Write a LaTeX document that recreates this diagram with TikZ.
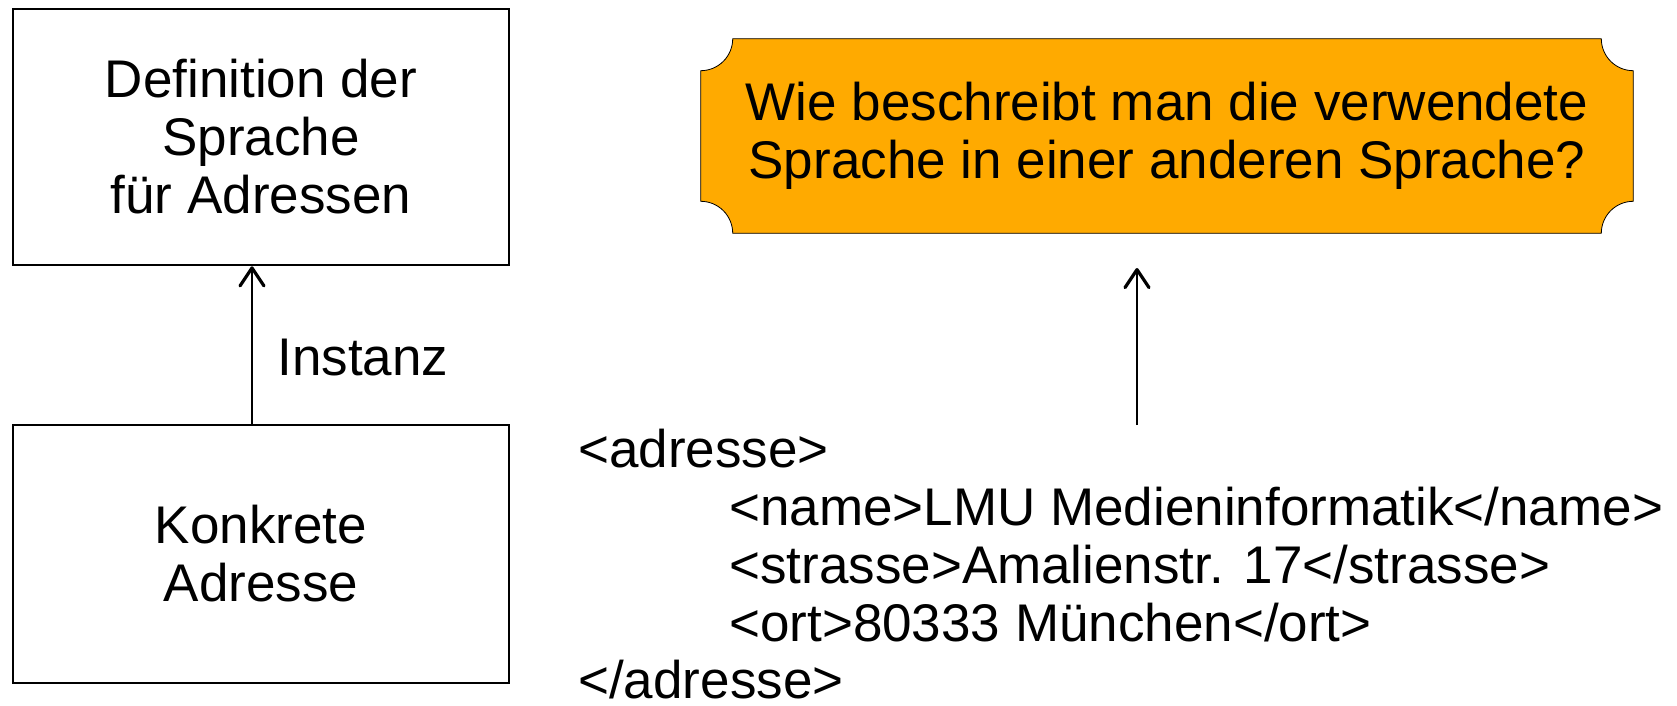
\documentclass[tikz,border=0pt]{standalone}
\usepackage{fontspec}
\setmainfont{Liberation Sans}
\usepackage{tikz}
\usetikzlibrary{arrows.meta,backgrounds}
\definecolor{fragefarbe}{RGB}{255,170,0}

\begin{document}
\begin{tikzpicture}[x=0.5pt, y=0.5pt, line width=1.3pt,
        >={Straight Barb[length=9pt,width=12pt,round,line width=1.6pt]},
        every node/.append style={font=\fontsize{26.5pt}{29pt}\selectfont}]
      \tikzstyle{box} = [draw, align=center, minimum width=248pt, minimum height=128pt]
      \tikzstyle{code} = [anchor=base west, inner sep=0pt]
      \useasboundingbox (0,0) rectangle (1677,-706);
      \node (definition) [box] at (261,-137) {Definition der\\Sprache\\für Adressen};
      \node (konkret) [box, minimum height=129pt] at (261,-554) {Konkrete\\Adresse};
      \draw[->] ([xshift=-4.5pt]konkret.north) -- ([xshift=-4.5pt]definition.south)
        node [pos=0.42, right=12pt, inner sep=0pt] (instanz) {Instanz};
      \node (frage) [align=center, minimum width=465pt, minimum height=96pt] at (1167,-136)
        {Wie beschreibt man die verwendete\\Sprache in einer anderen Sprache?};
      \begin{scope}[on background layer]
        \draw[fill=fragefarbe] ([xshift=16pt]frage.north west) -- ([xshift=-16pt]frage.north east)
          arc[start angle=180, end angle=270, radius=16pt] -- ([yshift=16pt]frage.south east)
          arc[start angle=90, end angle=180, radius=16pt] -- ([xshift=16pt]frage.south west)
          arc[start angle=0, end angle=90, radius=16pt] -- ([yshift=-16pt]frage.north west)
          arc[start angle=270, end angle=360, radius=16pt] -- cycle;
      \end{scope}
      \node (adresseAuf) [code] at (577,-467) {<adresse>};
      \node (name) [code] at (728,-525) {<name>LMU Medieninformatik</name>};
      \node (strasse) [code] at (728,-583) {<strasse>Amalienstr. 17</strasse>};
      \node (ort) [code] at (728,-641) {<ort>80333 München</ort>};
      \node (adresseZu) [code] at (577,-698) {</adresse>};
      \coordinate (xmlOben) at (1137,-425);
      \coordinate (frageUnten) at (1137,-268);
      \draw[->] (xmlOben) -- (frageUnten);
    \end{tikzpicture}
\end{document}
